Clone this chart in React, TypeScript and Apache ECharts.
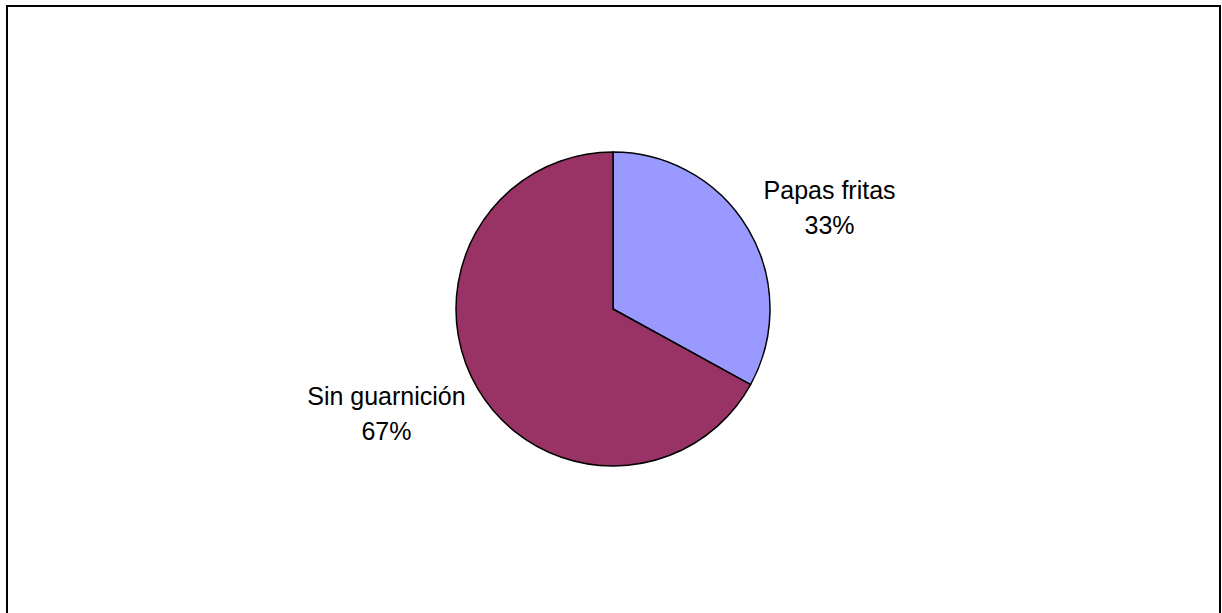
import React, { useEffect, useRef } from "react";
import * as echarts from "echarts";

const categories = ["Papas fritas", "Sin guarnición"];
const values = [33, 67];
const colors = ["#9999FF", "#993366"];

export default function App() {
  const ref = useRef<HTMLDivElement>(null);
  useEffect(() => {
    document.body.style.margin = "0";
    const chart = echarts.init(ref.current!, null, { renderer: "svg" });
    chart.setOption({
      animation: false,
      backgroundColor: "#ffffff",
      graphic: [
        {
          type: "rect",
          shape: { x: 7, y: 6, width: 1213, height: 640 },
          style: { fill: "none", stroke: "#000", lineWidth: 2 },
          silent: true,
        },
      ],
      series: [
        {
          type: "pie",
          center: [613, 309],
          radius: 157,
          startAngle: 90,
          clockwise: true,
          data: categories.map((c, i) => ({
            name: c,
            value: values[i],
            itemStyle: { color: colors[i] },
          })),
          itemStyle: { borderColor: "#000", borderWidth: 1.5 },
          label: {
            show: true,
            position: "outside",
            formatter: (p: any) => `${p.name}\n${Math.round(p.percent)}%`,
            fontFamily: "Liberation Sans, Arial, sans-serif",
            fontSize: 25,
            lineHeight: 35,
            color: "#000",
            align: "center",
          },
          labelLine: { show: false, length: 40, length2: 0 },
          labelLayout: (p: any) => {
            if (p.dataIndex === 0) return { dx: 42, dy: -1, align: "center" };
            return { dx: -52, dy: 4, align: "center" };
          },
        },
      ],
    });
    return () => chart.dispose();
  }, []);
  return <div ref={ref} style={{ width: 1222, height: 613 }} />;
}
